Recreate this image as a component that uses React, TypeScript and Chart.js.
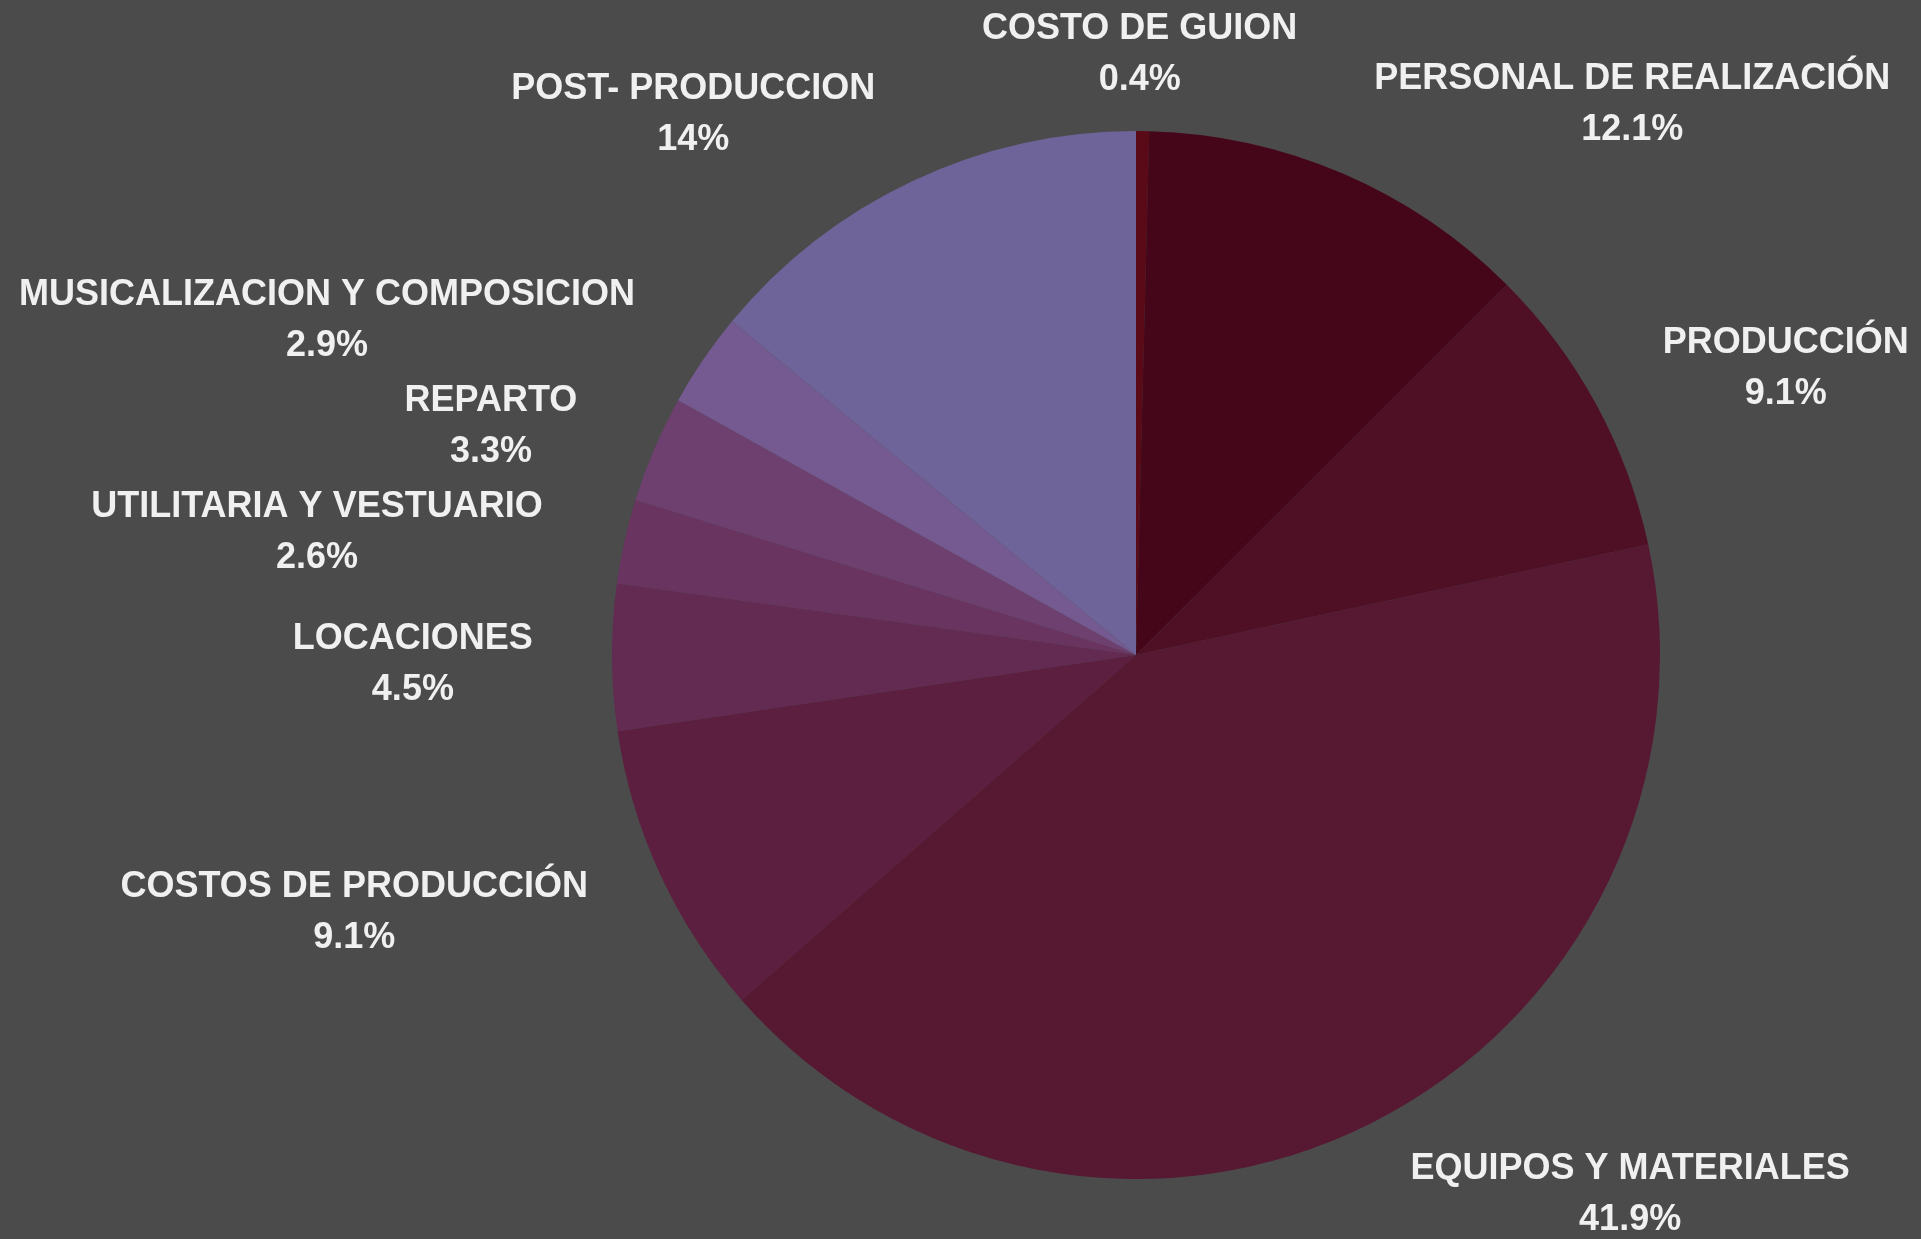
import React, { useEffect, useRef } from "react";
import { Chart, registerables } from "chart.js";

Chart.register(...registerables);

const categories = [
  "COSTO DE GUION",
  "PERSONAL DE REALIZACIÓN",
  "PRODUCCIÓN",
  "EQUIPOS Y MATERIALES",
  "COSTOS DE PRODUCCIÓN",
  "LOCACIONES",
  "UTILITARIA Y VESTUARIO",
  "REPARTO",
  "MUSICALIZACION Y COMPOSICION",
  "POST- PRODUCCION",
];

const values = [0.4, 12.1, 9.1, 41.9, 9.1, 4.5, 2.6, 3.3, 2.9, 14];

const sliceColors = [
  "#5a0a16",
  "#45061a",
  "#4f1026",
  "#571832",
  "#5d1f40",
  "#632a52",
  "#6a3460",
  "#6e406f",
  "#745a90",
  "#6e6499",
];

// label block placement relative to the pie centre, in units of the pie radius
const labelOffsetX = [0.007, 0.947, 1.24, 0.943, -1.492, -1.38, -1.563, -1.231, -1.544, -0.845];
const labelOffsetY = [-1.145, -1.051, -0.546, 1.03, 0.492, 0.019, -0.233, -0.436, -0.639, -1.032];

const fmtPct = (v: number) => (Number.isInteger(v) ? `${v}%` : `${v.toFixed(1)}%`);

const labelPlugin = {
  id: "outerLabels",
  afterDatasetsDraw(chart: any) {
    const ctx = chart.ctx;
    const meta = chart.getDatasetMeta(0);
    ctx.save();
    ctx.fillStyle = "#f0f0f0";
    ctx.font = "bold 36px 'Liberation Sans', Arial, sans-serif";
    ctx.textAlign = "center";
    ctx.textBaseline = "middle";
    meta.data.forEach((arc: any, i: number) => {
      const R = arc.outerRadius;
      const cx = arc.x + labelOffsetX[i] * R;
      const cy = arc.y + labelOffsetY[i] * R;
      ctx.fillText(categories[i], cx, cy - 25.5);
      ctx.fillText(fmtPct(values[i]), cx, cy + 25.5);
    });
    ctx.restore();
  },
};

export default function App() {
  const ref = useRef<HTMLCanvasElement>(null);
  useEffect(() => {
    document.body.style.margin = "0";
    const chart = new Chart(ref.current!, {
      type: "pie",
      data: {
        labels: categories,
        datasets: [
          {
            data: values,
            backgroundColor: sliceColors,
            borderWidth: 0,
          },
        ],
      },
      options: {
        responsive: false,
        animation: false,
        devicePixelRatio: 1,
        layout: { padding: { left: 612, right: 261, top: 131, bottom: 60 } },
        plugins: {
          legend: { display: false },
          tooltip: { enabled: false },
        },
      },
      plugins: [labelPlugin],
    });
    return () => chart.destroy();
  }, []);
  return (
    <div style={{ position: "absolute", left: 0, top: 0, width: 1921, height: 1239, background: "#4b4b4b" }}>
      <canvas ref={ref} width={1921} height={1239} />
    </div>
  );
}
